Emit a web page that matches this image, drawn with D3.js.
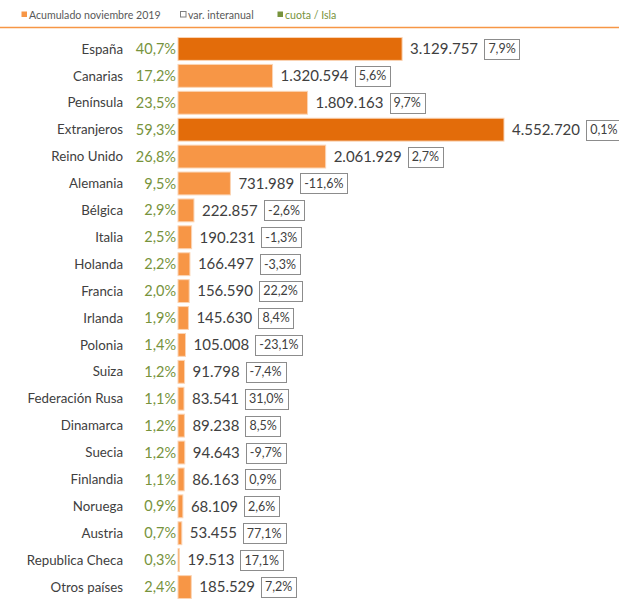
<!DOCTYPE html>
<html><head><meta charset="utf-8">
<script src="https://cdn.jsdelivr.net/npm/d3@7/dist/d3.min.js"></script>
<style>body{margin:0;background:#fff}svg{display:block}</style>
</head><body>
<script>
const categories = ["España","Canarias","Península","Extranjeros","Reino Unido","Alemania","Bélgica","Italia","Holanda","Francia","Irlanda","Polonia","Suiza","Federación Rusa","Dinamarca","Suecia","Finlandia","Noruega","Austria","Republica Checa","Otros países"];
const values = [3129757,1320594,1809163,4552720,2061929,731989,222857,190231,166497,156590,145630,105008,91798,83541,89238,94643,86163,68109,53455,19513,185529];
const cuota = ["40,7%","17,2%","23,5%","59,3%","26,8%","9,5%","2,9%","2,5%","2,2%","2,0%","1,9%","1,4%","1,2%","1,1%","1,2%","1,2%","1,1%","0,9%","0,7%","0,3%","2,4%"];
const varInter = ["7,9%","5,6%","9,7%","0,1%","2,7%","-11,6%","-2,6%","-1,3%","-3,3%","22,2%","8,4%","-23,1%","-7,4%","31,0%","8,5%","-9,7%","0,9%","2,6%","77,1%","17,1%","7,2%"];
const highlight = ["España","Extranjeros"];
const legendLabels = ["Acumulado noviembre 2019","var. interanual","cuota / Isla"];

const W=619,H=599;
const font="Lato, 'Open Sans', sans-serif";
const svg=d3.select("body").append("svg").attr("width",W).attr("height",H).style("font-family",font);

const x0=178;
const x=d3.scaleLinear().domain([0,4552720]).range([x0,504]);
const y=d3.scaleBand().domain(categories).range([35.5,600.5]).paddingInner(0.15).paddingOuter(0.075);

// legend
const lg=svg.append("g");
const legendX=[21,180,277];
const legendSw=[{fill:"#F79646",stroke:"none"},{fill:"#fff",stroke:"#7f7f7f"},{fill:"#77933C",stroke:"none"}];
const legendCol=["#595959","#595959","#77933C"];
legendLabels.forEach((t,i)=>{
  lg.append("rect").attr("x",legendX[i]+0.5).attr("y",11.5).attr("width",5.5).attr("height",5.5).attr("fill",legendSw[i].fill).attr("stroke",legendSw[i].stroke);
  lg.append("text").attr("x",legendX[i]+8).attr("y",18.5).attr("font-size",10.6).attr("fill",legendCol[i]).text(t);
});
svg.append("line").attr("x1",0).attr("x2",W).attr("y1",27.5).attr("y2",27.5).attr("stroke","#F79646").attr("stroke-width",1.5);

const rows=svg.append("g").selectAll("g").data(categories).join("g");
rows.append("rect")
  .attr("x",x0).attr("y",c=>y(c)).attr("height",y.bandwidth())
  .attr("width",(c,i)=>x(values[i])-x0)
  .attr("fill",c=>highlight.includes(c)?"#E36C0A":"#F79646")
  .attr("stroke","#FBD4B4").attr("stroke-width",1);
const cy=c=>y(c)+y.bandwidth()/2;
rows.append("text").attr("x",123).attr("y",c=>cy(c)).attr("dy","0.35em").attr("text-anchor","end")
  .attr("font-size",13.3).attr("fill","#404040").text(c=>c);
rows.append("text").attr("x",176).attr("y",c=>cy(c)).attr("dy","0.35em").attr("text-anchor","end")
  .attr("font-size",14.5).attr("fill","#77933C").text((c,i)=>cuota[i]);
const fmt=v=>d3.format(",")(v).replace(/,/g,".");
rows.append("text").attr("x",(c,i)=>x(values[i])+8).attr("y",c=>cy(c)).attr("dy","0.35em")
  .attr("font-size",15).attr("fill","#404040").text((c,i)=>fmt(values[i]));
rows.each(function(c,i){
  const g=d3.select(this);
  const tn=g.select("text:nth-of-type(3)").node();
  const bb=tn.getBBox();
  const bx=bb.x+bb.width+6;
  const t=g.append("text").attr("x",bx+4).attr("y",cy(c)).attr("dy","0.35em").attr("font-size",12.5).attr("fill","#404040").text(varInter[i]);
  const w=t.node().getBBox().width+8;
  g.insert("rect","text:last-of-type").attr("x",Math.round(bx)+0.5).attr("y",Math.round(cy(c)-10)+0.5).attr("width",Math.round(w)).attr("height",20)
    .attr("fill","#fff").attr("stroke","#8c8c8c").attr("stroke-width",1);
});
</script>
</body></html>
